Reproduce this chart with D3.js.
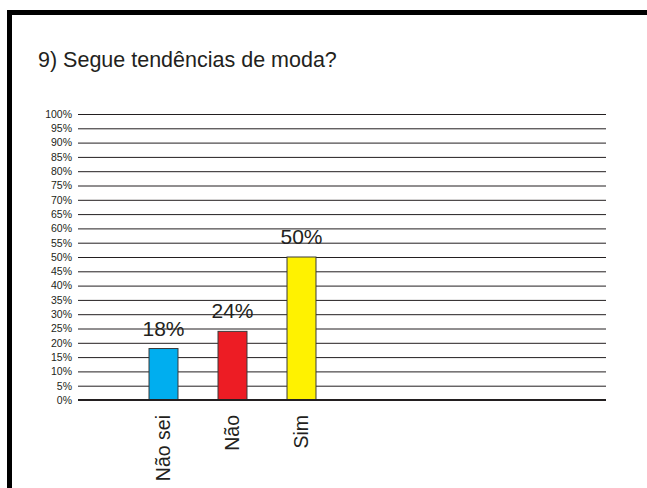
<!DOCTYPE html>
<html>
<head>
<meta charset="utf-8">
<script src="https://cdn.jsdelivr.net/npm/d3@7"></script>
<style>
  html, body { margin: 0; padding: 0; background: #fff; }
  svg { display: block; font-family: "Liberation Sans", Arial, Helvetica, sans-serif; }
</style>
</head>
<body>
<svg id="chart" width="647" height="488"></svg>
<script>
const title = "9) Segue tendências de moda?";
const categories = ["Não sei", "Não", "Sim"];
const values = [18, 24, 50];
const valueLabels = ["18%", "24%", "50%"];
const barColors = ["#00AEEF", "#ED1C24", "#FFF200"];
const yTicks = [0, 5, 10, 15, 20, 25, 30, 35, 40, 45, 50, 55, 60, 65, 70, 75, 80, 85, 90, 95, 100];

const svg = d3.select("#chart");

// frame
svg.append("path")
  .attr("d", "M9.5,500 L9.5,12.5 L660,12.5")
  .attr("fill", "none")
  .attr("stroke", "#000")
  .attr("stroke-width", 5);

// title
svg.append("text")
  .attr("x", 38).attr("y", 67)
  .attr("font-size", 21.5)
  .attr("fill", "#231f20")
  .text(title);

const gridLeft = 78, gridRight = 606;
const y = d3.scaleLinear().domain([0, 100]).range([400, 114]);
const x = d3.scaleBand().domain(categories).range([129, 336]).paddingInner(0.58).paddingOuter(0.29);

// gridlines via axis
const yAxis = d3.axisLeft(y)
  .tickValues(yTicks)
  .tickSize(-(gridRight - gridLeft))
  .tickPadding(6)
  .tickFormat(d => d + "%");

const gAxis = svg.append("g")
  .attr("transform", `translate(${gridLeft},0)`)
  .call(yAxis);
gAxis.select(".domain").remove();
gAxis.selectAll(".tick line")
  .attr("stroke", "#231f20")
  .attr("stroke-width", 1);
gAxis.selectAll(".tick text")
  .attr("font-size", 10.5)
  .attr("fill", "#231f20")
  .attr("font-family", "'Liberation Sans', Arial, sans-serif");

// bars
svg.append("g").selectAll("rect")
  .data(values)
  .join("rect")
  .attr("x", (d, i) => x(categories[i]))
  .attr("width", x.bandwidth())
  .attr("y", d => y(d))
  .attr("height", d => y(0) - y(d))
  .attr("fill", (d, i) => barColors[i])
  .attr("stroke", "#3a3a3a")
  .attr("stroke-width", 1);

// baseline (0%)
svg.append("line")
  .attr("x1", gridLeft).attr("x2", gridRight)
  .attr("y1", y(0)).attr("y2", y(0))
  .attr("stroke", "#231f20")
  .attr("stroke-width", 2);

// value labels
svg.append("g").selectAll("text")
  .data(values)
  .join("text")
  .attr("x", (d, i) => x(categories[i]) + x.bandwidth() / 2)
  .attr("y", d => y(d) - 13)
  .attr("text-anchor", "middle")
  .attr("font-size", 21)
  .attr("fill", "#231f20")
  .text((d, i) => valueLabels[i]);

// category labels (rotated)
svg.append("g").selectAll("text")
  .data(categories)
  .join("text")
  .attr("transform", d => `translate(${x(d) + x.bandwidth() / 2 + 6.5},415) rotate(-90)`)
  .attr("text-anchor", "end")
  .attr("font-size", 19.5)
  .attr("fill", "#231f20")
  .text(d => d);
</script>
</body>
</html>
